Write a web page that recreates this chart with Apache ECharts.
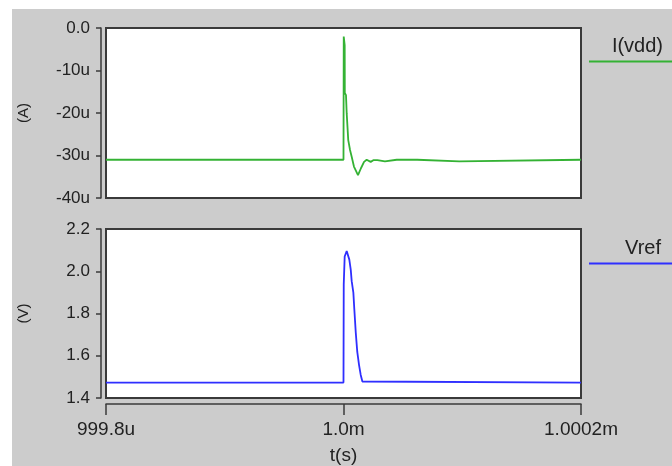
<!DOCTYPE html>
<html>
<head>
<meta charset="utf-8">
<script src="https://cdn.jsdelivr.net/npm/echarts@6/dist/echarts.min.js"></script>
<style>
  html, body { margin: 0; padding: 0; background: #ffffff; }
  #chart { width: 672px; height: 466px; }
</style>
</head>
<body>
<div id="chart"></div>
<script>
// Time axis: nanoseconds relative to t = 1 ms
const xTicks = [-200, 0, 200];
const xTickLabels = ['999.8u', '1.0m', '1.0002m'];

// Supply current I(vdd), in microamps
const iTime = [-200, 0, 0.2, 1.0, 1.1, 2.1, 2.7, 4.0, 5.5, 6.9, 8.8, 12.2, 14.7, 17.3, 19.5, 22.9, 25.1, 28.5, 30.0, 34.9, 44.8, 62.1, 62.2, 97.5, 97.6, 200];
const iVdd  = [-31.0, -31.0, -2.0, -4.0, -15.3, -15.8, -20.1, -26.4, -28.7, -30.3, -32.6, -34.6, -33.0, -31.5, -31.0, -31.5, -31.1, -31.1, -31.4, -31.4, -31.0, -31.0, -31.4, -31.4, -31.0, -31.0];
const iTicks = [-40, -30, -20, -10, 0];
const iTickLabels = ['-40u', '-30u', '-20u', '-10u', '0.0'];

// Reference voltage Vref, in volts
const vTime = [-200, 0, 0.2, 1.0, 2.7, 3.5, 4.9, 6.1, 6.9, 8.3, 9.1, 10.3, 11.6, 13.1, 14.5, 15.9, 16.8, 17.5, 200];
const vRef  = [1.473, 1.473, 1.938, 2.070, 2.096, 2.088, 2.055, 2.008, 1.953, 1.899, 1.821, 1.712, 1.618, 1.556, 1.509, 1.478, 1.481, 1.473, 1.473];
const vTicks = [1.4, 1.6, 1.8, 2.0, 2.2];
const vTickLabels = ['1.4', '1.6', '1.8', '2.0', '2.2'];

const seriesNames = ['I(vdd)', 'Vref'];
const seriesColors = ['#34b234', '#2f2fff'];

const FONT = 'Liberation Sans, Arial, sans-serif';
const INK = '#222222';
const AXIS = '#3a3a3a';

function pairs(xs, ys) { return xs.map((x, i) => [x, ys[i]]); }
function tickLabel(ticks, labels) {
  return function (v) {
    for (let i = 0; i < ticks.length; i++) {
      if (Math.abs(ticks[i] - v) < 1e-6) return labels[i];
    }
    return '';
  };
}

const yAxisCommon = {
  type: 'value',
  position: 'left',
  offset: 5,
  splitLine: { show: false },
  axisLine: { show: true, onZero: false, lineStyle: { color: AXIS, width: 1.5 } },
  axisTick: { show: true, inside: false, length: 5, lineStyle: { color: AXIS, width: 1.5 } },
  axisLabel: { margin: 11, color: INK, fontFamily: FONT, fontSize: 17 },
  nameLocation: 'middle',
  nameGap: 70,
  nameTextStyle: { color: INK, fontFamily: FONT, fontSize: 15 }
};

const chart = echarts.init(document.getElementById('chart'), null, { renderer: 'canvas' });

chart.setOption({
  backgroundColor: '#ffffff',
  animation: false,
  graphic: [
    { type: 'rect', z: -100, silent: true, shape: { x: 12, y: 9, width: 660, height: 457 }, style: { fill: '#cccccc' } },
    { type: 'text', z: 100, style: { text: seriesNames[0], x: 663, y: 46, align: 'right', verticalAlign: 'middle', font: '20px ' + FONT, fill: INK } },
    { type: 'line', z: 100, shape: { x1: 589, y1: 61.5, x2: 672, y2: 61.5 }, style: { stroke: seriesColors[0], lineWidth: 2 } },
    { type: 'text', z: 100, style: { text: seriesNames[1], x: 661, y: 248, align: 'right', verticalAlign: 'middle', font: '20px ' + FONT, fill: INK } },
    { type: 'line', z: 100, shape: { x1: 589, y1: 263.5, x2: 672, y2: 263.5 }, style: { stroke: seriesColors[1], lineWidth: 2 } }
  ],
  grid: [
    { left: 106, top: 28, width: 475, height: 170, show: true, backgroundColor: '#ffffff', borderColor: AXIS, borderWidth: 2 },
    { left: 106, top: 229, width: 475, height: 171, show: true, backgroundColor: '#ffffff', borderColor: AXIS, borderWidth: 2 }
  ],
  xAxis: [
    { type: 'value', gridIndex: 0, min: -200, max: 200, interval: 200, show: false, axisLine: { onZero: false } },
    {
      type: 'value', gridIndex: 1, min: -200, max: 200, interval: 200,
      position: 'bottom', offset: 6,
      splitLine: { show: false },
      axisLine: { show: true, onZero: false, lineStyle: { color: AXIS, width: 1.5 } },
      axisTick: { show: true, inside: false, length: 11, lineStyle: { color: AXIS, width: 1.5 } },
      axisLabel: { margin: 16, color: INK, fontFamily: FONT, fontSize: 19, formatter: tickLabel(xTicks, xTickLabels) },
      name: 't(s)', nameLocation: 'middle', nameGap: 42,
      nameTextStyle: { color: INK, fontFamily: FONT, fontSize: 19 }
    }
  ],
  yAxis: [
    Object.assign({}, yAxisCommon, {
      gridIndex: 0, min: -40, max: 0, interval: 10, name: '(A)',
      axisLabel: Object.assign({}, yAxisCommon.axisLabel, { formatter: tickLabel(iTicks, iTickLabels) })
    }),
    Object.assign({}, yAxisCommon, {
      gridIndex: 1, min: 1.4, max: 2.2, interval: 0.2, name: '(V)',
      axisLabel: Object.assign({}, yAxisCommon.axisLabel, { formatter: tickLabel(vTicks, vTickLabels) })
    })
  ],
  series: [
    {
      name: seriesNames[0], type: 'line', xAxisIndex: 0, yAxisIndex: 0,
      data: pairs(iTime, iVdd), showSymbol: false, symbol: 'none',
      lineStyle: { color: seriesColors[0], width: 1.8 }, itemStyle: { color: seriesColors[0] }
    },
    {
      name: seriesNames[1], type: 'line', xAxisIndex: 1, yAxisIndex: 1,
      data: pairs(vTime, vRef), showSymbol: false, symbol: 'none',
      lineStyle: { color: seriesColors[1], width: 1.8 }, itemStyle: { color: seriesColors[1] }
    }
  ]
});
</script>
</body>
</html>
